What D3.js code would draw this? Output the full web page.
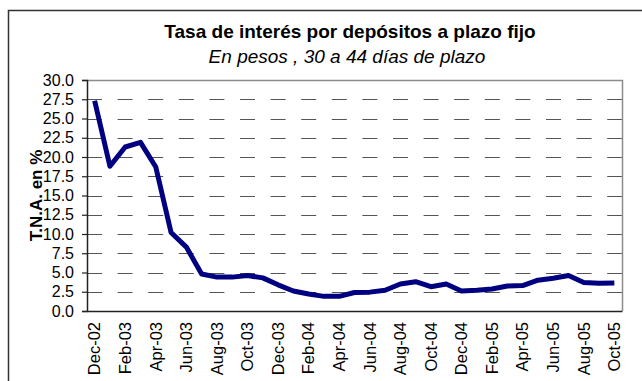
<!DOCTYPE html>
<html>
<head>
<meta charset="utf-8">
<script src="https://cdn.jsdelivr.net/npm/d3@7"></script>
<style>
  html, body { margin: 0; padding: 0; background: #fff; }
  svg { display: block; font-family: "Liberation Sans", Arial, sans-serif; }
</style>
</head>
<body>
<svg id="chart" width="642" height="381"></svg>
<script>
// Monthly periods, Dec-02 to Oct-05
const months = [
  "Dec-02","Jan-03","Feb-03","Mar-03","Apr-03","May-03","Jun-03","Jul-03","Aug-03","Sep-03","Oct-03","Nov-03",
  "Dec-03","Jan-04","Feb-04","Mar-04","Apr-04","May-04","Jun-04","Jul-04","Aug-04","Sep-04","Oct-04","Nov-04",
  "Dec-04","Jan-05","Feb-05","Mar-05","Apr-05","May-05","Jun-05","Jul-05","Aug-05","Sep-05","Oct-05"
];
// T.N.A. (%) for 30-44 day fixed-term peso deposits
const rates = [
  27.3, 18.8, 21.3, 21.9, 18.7, 10.2, 8.3, 4.8, 4.4, 4.4, 4.6, 4.3,
  3.4, 2.6, 2.2, 1.9, 1.9, 2.4, 2.45, 2.7, 3.5, 3.8, 3.15, 3.5,
  2.6, 2.7, 2.85, 3.25, 3.3, 4.0, 4.25, 4.6, 3.7, 3.6, 3.65
];
const yTicks = [0, 2.5, 5, 7.5, 10, 12.5, 15, 17.5, 20, 22.5, 25, 27.5, 30];
const titleText = "Tasa de interés por depósitos a plazo fijo";
const subtitleText = "En pesos , 30 a 44 días de plazo";
const yTitle = "T.N.A. en %";

const svg = d3.select("#chart");
const plot = { left: 87, right: 622, top: 80, bottom: 311 };

// Outer chart frame
svg.append("rect")
  .attr("x", 8.5).attr("y", 10.5)
  .attr("width", 700).attr("height", 400)
  .attr("fill", "#fff").attr("stroke", "#333").attr("stroke-width", 1.5);

const x = d3.scaleBand().domain(months).range([plot.left, plot.right]).padding(0);
const y = d3.scaleLinear().domain([0, 30]).range([plot.bottom, plot.top]);

// Dashed horizontal gridlines
svg.append("g").selectAll("line")
  .data(yTicks.filter(v => v > 0 && v < 30))
  .join("line")
  .attr("x1", plot.left).attr("x2", plot.right)
  .attr("y1", d => Math.round(y(d)) + 0.5).attr("y2", d => Math.round(y(d)) + 0.5)
  .attr("stroke", "#555").attr("stroke-width", 1)
  .attr("stroke-dasharray", "15,15.6");

// Plot-area border (top and right)
svg.append("path")
  .attr("d", `M${plot.left},${plot.top + 0.5}H${plot.right + 0.5}V${plot.bottom}`)
  .attr("fill", "none").attr("stroke", "#8c8c8c").attr("stroke-width", 1.5);

// Y axis
const yAxis = d3.axisLeft(y).tickValues(yTicks).tickFormat(d3.format(".1f"))
  .tickSize(5).tickPadding(8);
const gy = svg.append("g").attr("transform", `translate(${plot.left},0)`).call(yAxis);
gy.select(".domain").attr("stroke", "#222").attr("stroke-width", 1.5);
gy.selectAll(".tick line").attr("stroke", "#222").attr("stroke-width", 1.2);
gy.selectAll("text").attr("font-size", 16).attr("fill", "#000")
  .attr("font-family", "Liberation Sans, Arial, sans-serif");

// X axis (labels every second month)
const xAxis = d3.axisBottom(x).tickValues(months.filter((m, i) => i % 2 === 0))
  .tickSize(0).tickPadding(0);
const gx = svg.append("g").attr("transform", `translate(0,${plot.bottom})`).call(xAxis);
gx.select(".domain").attr("stroke", "#222").attr("stroke-width", 1.5);
gx.selectAll("text")
  .attr("font-size", 16.5).attr("fill", "#000")
  .attr("font-family", "Liberation Sans, Arial, sans-serif")
  .attr("text-anchor", "end")
  .attr("dy", null)
  .attr("transform", "translate(5.8,11) rotate(-90)");

// Series line
const line = d3.line()
  .x((d, i) => x(months[i]) + x.bandwidth() / 2)
  .y(d => y(d));
svg.append("path")
  .datum(rates)
  .attr("d", line)
  .attr("fill", "none")
  .attr("stroke", "#000080")
  .attr("stroke-width", 5)
  .attr("stroke-linejoin", "round")
  .attr("stroke-linecap", "butt");

// Titles
svg.append("text")
  .attr("x", 350).attr("y", 38)
  .attr("text-anchor", "middle")
  .attr("font-size", 19).attr("font-weight", "bold")
  .text(titleText);
svg.append("text")
  .attr("x", 347).attr("y", 63)
  .attr("text-anchor", "middle")
  .attr("font-size", 19).attr("font-style", "italic")
  .text(subtitleText);

// Y axis title
svg.append("text")
  .attr("transform", `translate(42,${(plot.top + plot.bottom) / 2}) rotate(-90)`)
  .attr("text-anchor", "middle")
  .attr("font-size", 17).attr("font-weight", "bold")
  .text(yTitle);
</script>
</body>
</html>
